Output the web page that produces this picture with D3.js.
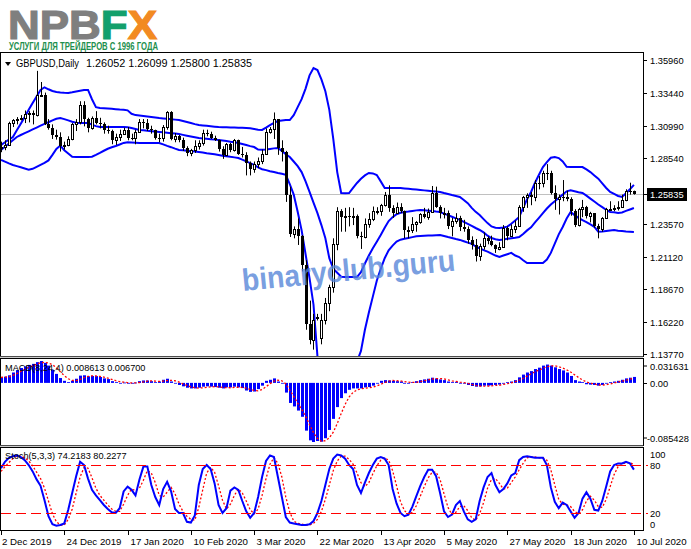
<!DOCTYPE html>
<html><head><meta charset="utf-8">
<script src="https://cdn.jsdelivr.net/npm/d3@7"></script>
<style>body{margin:0;background:#fff}svg{display:block}text{font-family:"Liberation Sans",Arial,sans-serif}</style>
</head><body><svg id="c" width="691" height="549"></svg>
<script>
const dateLabels=["2 Dec 2019","24 Dec 2019","17 Jan 2020","10 Feb 2020","3 Mar 2020","22 Mar 2020","13 Apr 2020","5 May 2020","27 May 2020","18 Jun 2020","10 Jul 2020"];
const dateIdx=[0,16,32,48,64,80,96,112,128,144,160];
const open=[1.2935,1.2940,1.2955,1.3120,1.3140,1.3150,1.3160,1.3190,1.3195,1.3180,
1.3330,1.3335,1.3110,1.3080,1.3030,1.3015,1.2945,1.2955,1.3000,1.3110,
1.3130,1.3255,1.3150,1.3080,1.3155,1.3120,1.3110,1.3065,1.3060,1.2995,
1.3015,1.3040,1.3070,1.3010,1.3005,1.3050,1.3130,1.3120,1.3075,1.3065,
1.3010,1.3005,1.3090,1.3200,1.3000,1.3020,1.2990,1.2930,1.2895,1.2915,
1.2950,1.2970,1.3045,1.3040,1.3005,1.2990,1.2925,1.2880,1.2960,1.2915,
1.2990,1.2890,1.2880,1.2820,1.2775,1.2810,1.2830,1.2890,1.3050,1.3075,
1.3150,1.2935,1.2905,1.2575,1.2285,1.2320,1.2265,1.2050,1.1600,1.1480,
1.1650,1.1500,1.1630,1.1760,1.1880,1.2210,1.2460,1.2410,1.2415,1.2410,
1.2420,1.2270,1.2260,1.2360,1.2395,1.2455,1.2460,1.2500,1.2575,1.2480,
1.2440,1.2490,1.2455,1.2310,1.2315,1.2360,1.2370,1.2430,1.2410,1.2450,
1.2590,1.2490,1.2440,1.2440,1.2340,1.2380,1.2405,1.2335,1.2320,1.2240,
1.2200,1.2120,1.2190,1.2250,1.2230,1.2200,1.2170,1.2185,1.2330,1.2270,
1.2320,1.2345,1.2490,1.2560,1.2580,1.2565,1.2670,1.2665,1.2745,1.2740,
1.2590,1.2550,1.2565,1.2560,1.2550,1.2460,1.2350,1.2470,1.2490,1.2420,
1.2440,1.2340,1.2320,1.2400,1.2470,1.2475,1.2480,1.2490,1.2540,1.2610,
1.26052];
const high=[1.2980,1.2990,1.3130,1.3150,1.3165,1.3180,1.3215,1.3210,1.3215,1.3514,
1.3430,1.3350,1.3150,1.3110,1.3070,1.3050,1.2980,1.3020,1.3120,1.3150,
1.3285,1.3285,1.3160,1.3170,1.3210,1.3160,1.3125,1.3100,1.3070,1.3040,
1.3070,1.3085,1.3090,1.3040,1.3070,1.3150,1.3150,1.3150,1.3100,1.3070,
1.3040,1.3105,1.3210,1.3210,1.3045,1.3030,1.3010,1.2945,1.2925,1.2990,
1.2990,1.3070,1.3070,1.3055,1.3025,1.2995,1.2945,1.2970,1.2970,1.3000,
1.2995,1.2940,1.2900,1.2830,1.2830,1.2860,1.2920,1.3080,1.3090,1.3200,
1.3150,1.2990,1.2910,1.2640,1.2340,1.2400,1.2275,1.2085,1.1780,1.1680,
1.1680,1.1680,1.1800,1.1900,1.2250,1.2485,1.2470,1.2480,1.2485,1.2480,
1.2430,1.2300,1.2400,1.2440,1.2490,1.2485,1.2510,1.2600,1.2650,1.2500,
1.2520,1.2515,1.2460,1.2340,1.2410,1.2380,1.2440,1.2480,1.2475,1.2645,
1.2640,1.2500,1.2480,1.2460,1.2405,1.2440,1.2420,1.2390,1.2340,1.2265,
1.2245,1.2210,1.2295,1.2265,1.2270,1.2205,1.2220,1.2350,1.2340,1.2355,
1.2385,1.2500,1.2570,1.2590,1.2600,1.2690,1.2720,1.2760,1.2810,1.2760,
1.2650,1.2580,1.2690,1.2610,1.2560,1.2470,1.2480,1.2540,1.2495,1.2450,
1.2440,1.2360,1.2410,1.2480,1.2530,1.2500,1.2530,1.2580,1.2620,1.2670,
1.26099];
const low=[1.2900,1.2915,1.2950,1.3090,1.3110,1.3140,1.3120,1.3125,1.3110,1.3170,
1.3320,1.3105,1.3070,1.3000,1.2995,1.2905,1.2920,1.2945,1.2990,1.3060,
1.3110,1.3095,1.3050,1.3070,1.3110,1.3080,1.3040,1.3040,1.2960,1.2955,
1.2985,1.3030,1.2990,1.2990,1.2960,1.3050,1.3080,1.3060,1.3040,1.2995,
1.2975,1.2980,1.3070,1.2990,1.2975,1.2975,1.2910,1.2870,1.2870,1.2895,
1.2920,1.2950,1.3020,1.3000,1.2985,1.2905,1.2850,1.2870,1.2900,1.2905,
1.2880,1.2860,1.2725,1.2725,1.2745,1.2780,1.2810,1.2880,1.3040,1.3000,
1.2880,1.2830,1.2525,1.2260,1.2250,1.2200,1.2000,1.1560,1.1450,1.1410,
1.1630,1.1450,1.1600,1.1700,1.1840,1.2160,1.2300,1.2300,1.2340,1.2350,
1.2250,1.2170,1.2250,1.2330,1.2380,1.2430,1.2420,1.2490,1.2450,1.2405,
1.2440,1.2440,1.2250,1.2250,1.2290,1.2300,1.2360,1.2400,1.2390,1.2450,
1.2480,1.2400,1.2400,1.2320,1.2265,1.2360,1.2305,1.2300,1.2210,1.2165,
1.2075,1.2080,1.2165,1.2205,1.2190,1.2140,1.2160,1.2180,1.2235,1.2260,
1.2290,1.2340,1.2450,1.2480,1.2500,1.2530,1.2620,1.2635,1.2690,1.2580,
1.2465,1.2430,1.2530,1.2530,1.2420,1.2335,1.2340,1.2410,1.2400,1.2370,
1.2330,1.2250,1.2300,1.2400,1.2460,1.2455,1.2460,1.2480,1.2530,1.2580,
1.25800];
const close=[1.2940,1.2955,1.3120,1.3140,1.3150,1.3160,1.3190,1.3195,1.3180,1.3330,
1.3335,1.3110,1.3080,1.3030,1.3015,1.2945,1.2955,1.3000,1.3110,1.3130,
1.3255,1.3150,1.3080,1.3155,1.3120,1.3110,1.3065,1.3060,1.2995,1.3015,
1.3040,1.3070,1.3010,1.3005,1.3050,1.3130,1.3120,1.3075,1.3065,1.3010,
1.3005,1.3090,1.3200,1.3000,1.3020,1.2990,1.2930,1.2895,1.2915,1.2950,
1.2970,1.3045,1.3040,1.3005,1.2990,1.2925,1.2880,1.2960,1.2915,1.2990,
1.2890,1.2880,1.2820,1.2775,1.2810,1.2830,1.2890,1.3050,1.3075,1.3150,
1.2935,1.2905,1.2575,1.2285,1.2320,1.2265,1.2050,1.1600,1.1480,1.1630,
1.1655,1.1630,1.1760,1.1880,1.2210,1.2460,1.2410,1.2415,1.2410,1.2420,
1.2270,1.2260,1.2360,1.2395,1.2455,1.2460,1.2500,1.2575,1.2480,1.2440,
1.2490,1.2455,1.2310,1.2315,1.2360,1.2370,1.2430,1.2410,1.2450,1.2590,
1.2490,1.2440,1.2440,1.2340,1.2380,1.2405,1.2335,1.2320,1.2240,1.2200,
1.2120,1.2190,1.2250,1.2230,1.2200,1.2170,1.2185,1.2330,1.2270,1.2320,
1.2345,1.2490,1.2560,1.2580,1.2565,1.2670,1.2665,1.2745,1.2740,1.2590,
1.2550,1.2565,1.2560,1.2550,1.2460,1.2350,1.2470,1.2490,1.2420,1.2440,
1.2340,1.2320,1.2400,1.2470,1.2475,1.2480,1.2490,1.2540,1.2610,1.2605,
1.25835];
const bbUpper=[1.2954,1.2975,1.2995,1.3015,1.3065,1.3115,1.3165,1.3220,1.3271,1.3320,
1.3370,1.3390,1.3375,1.3362,1.3354,1.3350,1.3348,1.3347,1.3352,1.3358,
1.3364,1.3370,1.3370,1.3300,1.3240,1.3234,1.3232,1.3230,1.3228,1.3225,
1.3222,1.3220,1.3216,1.3190,1.3180,1.3177,1.3174,1.3170,1.3166,1.3162,
1.3158,1.3155,1.3152,1.3149,1.3146,1.3143,1.3136,1.3128,1.3120,1.3112,
1.3105,1.3102,1.3099,1.3096,1.3093,1.3090,1.3089,1.3088,1.3087,1.3086,
1.3085,1.3084,1.3083,1.3080,1.3075,1.3070,1.3068,1.3085,1.3105,1.3122,
1.3135,1.3140,1.3143,1.3143,1.3180,1.3240,1.3300,1.3380,1.3480,1.3535,
1.3520,1.3450,1.3360,1.3220,1.3000,1.2750,1.2592,1.2590,1.2592,1.2630,
1.2668,1.2700,1.2725,1.2743,1.2740,1.2728,1.2680,1.2630,1.2630,1.2630,
1.2630,1.2630,1.2627,1.2624,1.2621,1.2618,1.2615,1.2612,1.2609,1.2606,
1.2603,1.2600,1.2592,1.2585,1.2577,1.2570,1.2562,1.2540,1.2515,1.2480,
1.2450,1.2426,1.2395,1.2365,1.2340,1.2330,1.2328,1.2332,1.2338,1.2360,
1.2385,1.2411,1.2480,1.2545,1.2600,1.2670,1.2730,1.2788,1.2825,1.2858,
1.2864,1.2856,1.2830,1.2790,1.2788,1.2788,1.2788,1.2788,1.2770,1.2750,
1.2725,1.2700,1.2665,1.2630,1.2600,1.2585,1.2570,1.2562,1.2590,1.2620,
1.2653];
const bbMiddle=[1.2917,1.2942,1.2966,1.2990,1.3015,1.3030,1.3044,1.3058,1.3072,1.3086,
1.3100,1.3114,1.3126,1.3140,1.3152,1.3158,1.3150,1.3140,1.3130,1.3122,
1.3121,1.3121,1.3121,1.3108,1.3097,1.3090,1.3090,1.3090,1.3090,1.3090,
1.3090,1.3090,1.3088,1.3082,1.3075,1.3068,1.3065,1.3062,1.3059,1.3056,
1.3053,1.3050,1.3047,1.3044,1.3041,1.3037,1.3031,1.3025,1.3019,1.3013,
1.3007,1.3004,1.3001,1.2998,1.2995,1.2992,1.2988,1.2984,1.2979,1.2975,
1.2970,1.2962,1.2954,1.2946,1.2939,1.2920,1.2918,1.2920,1.2925,1.2929,
1.2932,1.2910,1.2885,1.2864,1.2830,1.2795,1.2750,1.2680,1.2600,1.2520,
1.2440,1.2350,1.2250,1.2100,1.2020,1.1990,1.1960,1.1958,1.1958,1.1958,
1.1958,1.1995,1.2060,1.2120,1.2175,1.2225,1.2275,1.2330,1.2380,1.2410,
1.2432,1.2443,1.2448,1.2452,1.2457,1.2461,1.2464,1.2462,1.2459,1.2456,
1.2452,1.2449,1.2437,1.2425,1.2413,1.2401,1.2389,1.2374,1.2359,1.2344,
1.2328,1.2313,1.2295,1.2270,1.2252,1.2243,1.2238,1.2242,1.2247,1.2251,
1.2255,1.2260,1.2283,1.2310,1.2333,1.2370,1.2405,1.2440,1.2475,1.2505,
1.2530,1.2555,1.2580,1.2605,1.2612,1.2605,1.2598,1.2592,1.2572,1.2550,
1.2528,1.2505,1.2485,1.2465,1.2449,1.2446,1.2442,1.2445,1.2457,1.2468,
1.2479];
const bbLower=[1.2841,1.2829,1.2816,1.2804,1.2795,1.2786,1.2777,1.2768,1.2775,1.2790,
1.2805,1.2820,1.2838,1.2880,1.2925,1.2950,1.2915,1.2890,1.2866,1.2864,
1.2864,1.2864,1.2864,1.2866,1.2880,1.2895,1.2911,1.2926,1.2937,1.2947,
1.2958,1.2970,1.2976,1.2974,1.2972,1.2970,1.2970,1.2970,1.2970,1.2970,
1.2970,1.2959,1.2948,1.2938,1.2927,1.2917,1.2914,1.2911,1.2908,1.2905,
1.2902,1.2898,1.2893,1.2889,1.2884,1.2879,1.2874,1.2870,1.2865,1.2861,
1.2856,1.2844,1.2831,1.2818,1.2805,1.2785,1.2772,1.2765,1.2757,1.2750,
1.2743,1.2738,1.2730,1.2660,1.2580,1.2450,1.2310,1.2130,1.1950,1.1750,
1.1360,1.1250,1.1140,1.1000,1.1040,1.1230,1.1300,1.1290,1.1280,1.1290,
1.1320,1.1400,1.1560,1.1690,1.1810,1.1930,1.2020,1.2100,1.2160,1.2195,
1.2225,1.2240,1.2247,1.2253,1.2259,1.2265,1.2268,1.2270,1.2271,1.2272,
1.2274,1.2275,1.2268,1.2260,1.2253,1.2245,1.2238,1.2228,1.2218,1.2208,
1.2190,1.2175,1.2161,1.2150,1.2135,1.2120,1.2109,1.2120,1.2130,1.2140,
1.2120,1.2109,1.2085,1.2064,1.2064,1.2064,1.2064,1.2064,1.2090,1.2140,
1.2210,1.2280,1.2336,1.2400,1.2449,1.2425,1.2405,1.2388,1.2373,1.2355,
1.2337,1.2300,1.2302,1.2306,1.2310,1.2312,1.2308,1.2305,1.2302,1.2300,
1.2298];
const macdHist=[0.0085,0.0090,0.0110,0.0150,0.0185,0.0215,0.0240,0.0260,0.0275,0.0300,
0.0316,0.0290,0.0250,0.0190,0.0130,0.0070,0.0030,0.0010,0.0030,0.0060,
0.0105,0.0110,0.0095,0.0100,0.0098,0.0085,0.0065,0.0055,0.0025,0.0010,
0.0000,0.0005,0.0000,-0.0010,0.0005,0.0025,0.0035,0.0035,0.0025,0.0010,
0.0020,0.0045,0.0060,0.0020,0.0000,-0.0030,-0.0050,-0.0070,-0.0080,-0.0080,
-0.0070,-0.0055,-0.0050,-0.0055,-0.0060,-0.0070,-0.0080,-0.0065,-0.0065,-0.0055,
-0.0065,-0.0075,-0.0110,-0.0130,-0.0125,-0.0090,-0.0040,0.0030,0.0045,0.0065,
0.0020,-0.0005,-0.0140,-0.0290,-0.0340,-0.0400,-0.0490,-0.0690,-0.0830,-0.0854,
-0.0840,-0.0850,-0.0800,-0.0680,-0.0520,-0.0350,-0.0220,-0.0150,-0.0100,-0.0080,
-0.0080,-0.0080,-0.0065,-0.0060,-0.0040,-0.0010,0.0030,0.0040,0.0035,0.0030,
0.0025,0.0020,-0.0005,0.0000,0.0010,0.0025,0.0040,0.0050,0.0060,0.0075,
0.0065,0.0050,0.0040,0.0020,0.0010,0.0015,0.0000,-0.0010,-0.0030,-0.0045,
-0.0055,-0.0050,-0.0040,-0.0040,-0.0035,-0.0030,-0.0025,0.0000,0.0010,0.0020,
0.0040,0.0080,0.0120,0.0150,0.0170,0.0200,0.0220,0.0250,0.0265,0.0250,
0.0225,0.0200,0.0180,0.0150,0.0100,0.0040,0.0020,0.0010,-0.0020,-0.0025,
-0.0030,-0.0040,-0.0030,0.0000,0.0010,0.0020,0.0030,0.0045,0.0065,0.0075,
0.008613];
const macdSignal=[0.0080,0.0083,0.0088,0.0109,0.0134,0.0165,0.0194,0.0225,0.0248,0.0269,
0.0291,0.0295,0.0289,0.0262,0.0220,0.0160,0.0105,0.0060,0.0035,0.0033,
0.0051,0.0076,0.0093,0.0102,0.0100,0.0094,0.0083,0.0068,0.0050,0.0033,
0.0018,0.0010,0.0004,0.0000,0.0000,0.0005,0.0014,0.0025,0.0030,0.0026,
0.0022,0.0025,0.0034,0.0036,0.0031,0.0012,-0.0015,-0.0037,-0.0058,-0.0070,
-0.0075,-0.0071,-0.0064,-0.0058,-0.0055,-0.0059,-0.0066,-0.0069,-0.0070,-0.0066,
-0.0063,-0.0065,-0.0076,-0.0095,-0.0110,-0.0114,-0.0096,-0.0056,-0.0011,0.0025,
0.0040,0.0031,-0.0015,-0.0104,-0.0194,-0.0293,-0.0380,-0.0480,-0.0603,-0.0718,
-0.0804,-0.0844,-0.0836,-0.0793,-0.0713,-0.0588,-0.0443,-0.0311,-0.0204,-0.0138,
-0.0103,-0.0085,-0.0076,-0.0071,-0.0061,-0.0044,-0.0021,0.0006,0.0024,0.0035,
0.0033,0.0028,0.0018,0.0010,0.0006,0.0008,0.0019,0.0031,0.0044,0.0056,
0.0063,0.0063,0.0058,0.0044,0.0030,0.0021,0.0011,0.0004,-0.0006,-0.0021,
-0.0035,-0.0045,-0.0048,-0.0047,-0.0042,-0.0037,-0.0034,-0.0023,-0.0011,0.0001,
0.0018,0.0038,0.0063,0.0098,0.0130,0.0160,0.0185,0.0210,0.0234,0.0246,
0.0248,0.0235,0.0214,0.0189,0.0158,0.0118,0.0078,0.0043,0.0013,-0.0004,
-0.0016,-0.0029,-0.0031,-0.0026,-0.0015,0.0000,0.0015,0.0026,0.0040,0.0054,
0.0067];
const stochMain=[76,84,89,91,92,90,86,80,72,62,
54,36,16,6,4,5,7,24,45,66,
84,80,63,49,42,36,30,25,21,20,
26,47,53,49,42,62,78,78,55,40,
30,50,59,47,25,20,20,9,8,17,
55,75,80,75,57,30,20,26,48,52,
49,35,22,14,20,40,65,85,92,90,
65,40,15,8,7,6,5,5,6,10,
20,35,55,75,88,93,92,88,80,75,
55,45,58,70,80,88,90,88,80,50,
32,20,16,18,28,41,54,65,74,74,
66,45,22,15,18,30,35,22,12,9,
12,35,52,65,70,55,46,50,57,67,
70,86,90,91,90,89,89,89,80,52,
34,26,33,30,22,14,20,38,46,38,
24,23,35,53,72,80,82,82,84,82,
74.2183];
const stochSignal=[72,78,83,88,91,91,89,85,79,71,
63,51,35,19,9,5,5,12,25,45,
65,77,76,64,51,42,36,30,25,22,
22,31,42,50,48,51,61,73,70,58,
42,40,46,52,44,31,22,16,12,11,
27,49,70,77,71,54,36,25,31,42,
50,45,35,24,19,25,42,63,81,89,
82,65,40,21,10,7,6,5,5,7,
12,22,37,55,73,85,91,91,87,81,
70,58,53,58,69,79,86,89,86,73,
54,34,23,18,21,29,41,53,64,71,
71,62,44,27,18,21,28,29,23,14,
11,19,33,51,62,63,57,50,51,58,
65,74,82,89,90,90,89,89,86,74,
55,37,31,30,28,22,19,24,35,41,
36,28,27,37,53,68,78,81,83,83,
80.2277];
const priceTicks=[1.35960,1.33440,1.30990,1.28540,1.23570,1.21120,1.18670,1.16220,1.13770];
const macdTicks=[0.031631,0.00,-0.085428];
const macdTickText=["0.031631","0.00","-0.085428"];
const stochTicks=[100,80,20,0];
const stochLevels=[80,20];
const symbolText="GBPUSD,Daily";
const ohlcText="1.26052 1.26099 1.25800 1.25835";
const macdText="MACD(8,24,4) 0.008613 0.006700";
const stochText="Stoch(5,3,3) 74.2183 80.2277";

const svg=d3.select("#c");
svg.append("rect").attr("width",691).attr("height",549).attr("fill","#fff");
const R=643;
const P={main:[52,356],macd:[358,445],stoch:[447,530]};
const n=close.length;
const x=d3.scaleLinear().domain([0,160]).range([1,633.9]);
const yM=d3.scaleLinear().domain([1.13770,1.35960]).range([354,60]);
const yD=d3.scaleLinear().domain([-0.085428,0.031631]).range([442,361]);
const yS=d3.scaleLinear().domain([0,100]).range([529,449]);
const px=i=>Math.round(x(i));
const AX=9.3;

const defs=svg.append("defs");
Object.entries(P).forEach(([k,[t,b]])=>{
  defs.append("clipPath").attr("id","clip-"+k).append("rect").attr("x",1).attr("y",t+1).attr("width",R-1).attr("height",b-t-1);
});

// ---------- logo
const logo=svg.append("text").attr("x",8).attr("y",39).attr("font-family","'DejaVu Sans',sans-serif")
  .attr("font-weight","bold").attr("font-size",41).attr("textLength",149).attr("lengthAdjust","spacingAndGlyphs")
  .attr("stroke-width",1.2);
logo.append("tspan").attr("fill","#7f7f7f").attr("stroke","#7f7f7f").text("NPB");
logo.append("tspan").attr("fill","#13a06c").attr("stroke","#13a06c").text("F");
logo.append("tspan").attr("fill","#f28a22").attr("stroke","#f28a22").text("X");
svg.append("text").attr("x",9).attr("y",49.5).attr("font-family","'DejaVu Sans Condensed','DejaVu Sans',sans-serif")
  .attr("font-weight","bold").attr("font-size",10).attr("fill","#1e8f4e").attr("textLength",149).attr("lengthAdjust","spacingAndGlyphs")
  .text("УСЛУГИ ДЛЯ ТРЕЙДЕРОВ С 1996 ГОДА");

// ---------- panel frames
Object.values(P).forEach(([t,b])=>{
  svg.append("rect").attr("x",0.5).attr("y",t+0.5).attr("width",R).attr("height",b-t).attr("fill","none").attr("stroke","#000");
});
svg.append("line").attr("x1",0).attr("x2",R).attr("y1",357).attr("y2",357).attr("stroke","#9a9a9a");
svg.append("line").attr("x1",0).attr("x2",R).attr("y1",446).attr("y2",446).attr("stroke","#9a9a9a");

// ---------- main panel
const gM=svg.append("g").attr("clip-path","url(#clip-main)");
const yLast=Math.round(yM(close[n-1]))+0.5;
gM.append("line").attr("x1",0).attr("x2",R).attr("y1",yLast).attr("y2",yLast).attr("stroke","#c0c0c0");
const lineM=arr=>d3.line().x((d,i)=>x(i)).y(d=>yM(d))(arr);
[bbUpper,bbMiddle,bbLower].forEach(a=>{
  gM.append("path").attr("d",lineM(a)).attr("fill","none").attr("stroke","#0000ff").attr("stroke-width",2);
});
for(let i=0;i<n;i++){
  const cx=px(i)+0.5;
  gM.append("line").attr("x1",cx).attr("x2",cx).attr("y1",yM(high[i])).attr("y2",yM(low[i])).attr("stroke","#000");
  const top=Math.round(yM(Math.max(open[i],close[i]))), bot=Math.round(yM(Math.min(open[i],close[i])));
  if(close[i]>=open[i]){
    gM.append("rect").attr("x",px(i)-0.5).attr("y",top+0.5).attr("width",2).attr("height",Math.max(bot-top,1)).attr("fill","#fff").attr("stroke","#000");
  }else{
    gM.append("rect").attr("x",px(i)-1).attr("y",top).attr("width",3).attr("height",Math.max(bot-top,1)).attr("fill","#000");
  }
}

// header
svg.append("path").attr("d","M5,62 L11,62 L8,66 Z").attr("fill","#000");
svg.append("text").attr("x",16).attr("y",67).attr("font-size",11).attr("textLength",63).attr("lengthAdjust","spacingAndGlyphs").text(symbolText);
svg.append("text").attr("x",86).attr("y",67).attr("font-size",11).attr("textLength",166).attr("lengthAdjust","spacingAndGlyphs").text(ohlcText);

// watermark
svg.append("text").attr("x",243).attr("y",291).attr("transform","rotate(-5.5,243,291)")
  .attr("font-family","'DejaVu Sans',sans-serif").attr("font-weight","bold").attr("font-size",31)
  .attr("fill","#5585d8").attr("fill-opacity",0.8).attr("textLength",214).attr("lengthAdjust","spacingAndGlyphs").text("binaryclub.guru");

// price axis
priceTicks.forEach(v=>{
  const y=Math.round(yM(v))+0.5;
  svg.append("line").attr("x1",R).attr("x2",R+4).attr("y1",y).attr("y2",y).attr("stroke","#000");
  svg.append("text").attr("x",650).attr("y",y+3.5).attr("font-size",AX).text(v.toFixed(5));
});
svg.append("line").attr("x1",R).attr("x2",R+4).attr("y1",yLast).attr("y2",yLast).attr("stroke","#000");
svg.append("rect").attr("x",647).attr("y",yLast-6.5).attr("width",40).attr("height",13).attr("fill","#000");
svg.append("text").attr("x",650).attr("y",yLast+3.5).attr("font-size",AX).attr("fill","#fff").text(close[n-1].toFixed(5));

// ---------- MACD panel
const gD=svg.append("g").attr("clip-path","url(#clip-macd)");
const y0=yD(0);
gD.selectAll("rect.h").data(macdHist).join("rect").attr("class","h")
  .attr("x",(d,i)=>px(i)-1).attr("width",3)
  .attr("y",d=>Math.min(yD(d),y0)).attr("height",d=>Math.max(Math.abs(yD(d)-y0),0.8)).attr("fill","#0000ff");
gD.append("path").attr("d",d3.line().x((d,i)=>x(i)).y(d=>yD(d))(macdSignal))
  .attr("fill","none").attr("stroke","#ff0000").attr("stroke-width",1.3).attr("stroke-dasharray","2,2");
svg.append("text").attr("x",5).attr("y",371).attr("font-size",9.2).attr("fill","#000").text(macdText);
macdTicks.forEach((v,k)=>{
  const yv=Math.round(yD(v))+0.5;
  const yt=Math.min(Math.max(yv,P.macd[0]+8),P.macd[1]-7);
  svg.append("line").attr("x1",R).attr("x2",R+4).attr("y1",yt).attr("y2",yt).attr("stroke","#000");
  svg.append("text").attr("x",k===2?647:650).attr("y",yt+3.5).attr("font-size",AX).text(macdTickText[k]);
});

// ---------- Stoch panel
const gS=svg.append("g").attr("clip-path","url(#clip-stoch)");
stochLevels.forEach(v=>{
  const y=Math.round(yS(v))+0.5;
  svg.append("line").attr("x1",1).attr("x2",R+5).attr("y1",y).attr("y2",y).attr("stroke","#ff0000").attr("stroke-dasharray","10,5");
});
gS.append("path").attr("d",d3.line().x((d,i)=>x(i)).y(d=>yS(d))(stochSignal))
  .attr("fill","none").attr("stroke","#ff0000").attr("stroke-width",1.3).attr("stroke-dasharray","2,2");
gS.append("path").attr("d",d3.line().x((d,i)=>x(i)).y(d=>yS(d))(stochMain))
  .attr("fill","none").attr("stroke","#0000ff").attr("stroke-width",2);
svg.append("text").attr("x",5).attr("y",459).attr("font-size",9.2).attr("fill","#000").text(stochText);
stochTicks.forEach(v=>{
  const yv=Math.round(yS(v))+0.5;
  const yt=Math.min(Math.max(yv,P.stoch[0]+7),P.stoch[1]-6);
  svg.append("text").attr("x",650).attr("y",yt+3.5).attr("font-size",AX).text(String(v));
});

// ---------- time axis
dateIdx.forEach((idx,k)=>{
  const xx=px(idx)+0.5;
  svg.append("line").attr("x1",xx).attr("x2",xx).attr("y1",530).attr("y2",535).attr("stroke","#000");
  svg.append("text").attr("x",k===0?2:xx+2).attr("y",545).attr("font-size",9.7).text(dateLabels[k]);
});
</script></body></html>
